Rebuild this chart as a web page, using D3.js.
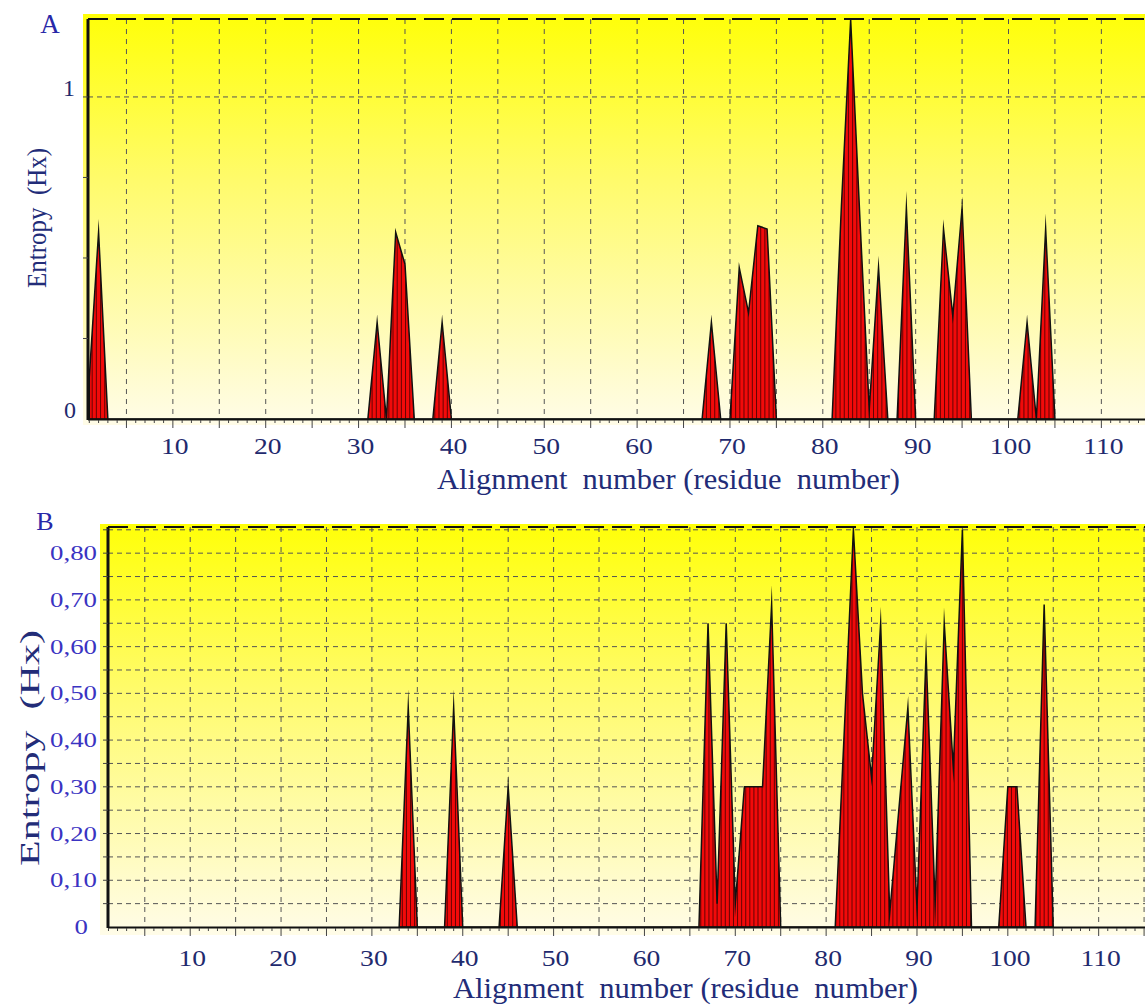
<!DOCTYPE html>
<html>
<head>
<meta charset="utf-8">
<script src="https://cdn.jsdelivr.net/npm/d3@7"></script>
<style>
  body { margin: 0; background: #fff; }
  svg { display: block; }
  text { font-family: "Liberation Serif", "Times New Roman", serif; }
</style>
</head>
<body>
<svg id="chart" width="1145" height="1007"></svg>
<script>
// panel A: residue numbers and entropy values (zeros mark the foot of each peak)
const residuesA = [1, 2, 3, 31, 32, 33, 34, 35, 36, 38, 39, 40, 67, 68, 69,
  70, 71, 72, 73, 74, 75, 81, 82, 83, 84, 85, 86, 87, 88, 89, 90,
  92, 93, 94, 95, 96, 101, 102, 103, 104, 105];
const entropyA = [0.13, 0.58, 0, 0, 0.30, 0, 0.58, 0.48, 0, 0, 0.30, 0, 0, 0.30, 0,
  0, 0.47, 0.33, 0.60, 0.59, 0, 0, 0.66, 1.24, 0.62, 0.03, 0.47, 0, 0, 0.655, 0,
  0, 0.59, 0.32, 0.655, 0, 0, 0.30, 0, 0.59, 0];

// panel B
const residuesB = [33, 34, 35, 38, 39, 40, 44, 45, 46,
  66, 67, 68, 69, 70, 71, 72, 73, 74, 75,
  81, 82, 83, 84, 85, 86, 87, 88, 89, 90, 91, 92, 93, 94, 95, 96,
  99, 100, 101, 102, 103, 104, 105];
const entropyB = [0, 0.47, 0, 0, 0.47, 0, 0, 0.30, 0,
  0, 0.65, 0.05, 0.65, 0.05, 0.30, 0.30, 0.30, 0.69, 0,
  0, 0.42, 0.85, 0.50, 0.32, 0.65, 0.03, 0.25, 0.47, 0.04, 0.585, 0.05, 0.65, 0.34, 0.85, 0,
  0, 0.30, 0.30, 0, 0, 0.69, 0];

const xTickValues = [10, 20, 30, 40, 50, 60, 70, 80, 90, 100, 110];
const yLabelsA = [0, 1];
const yLabelsB = [0, 0.1, 0.2, 0.3, 0.4, 0.5, 0.6, 0.7, 0.8];
const xTitle = "Alignment  number (residue  number)";
const yTitle = "Entropy  (Hx)";

const svg = d3.select("#chart");

const defs = svg.append("defs");
const grad = defs.append("linearGradient").attr("id", "bg")
  .attr("x1", 0).attr("y1", 0).attr("x2", 0).attr("y2", 1);
grad.append("stop").attr("offset", "0%").attr("stop-color", "#ffff08");
grad.append("stop").attr("offset", "40%").attr("stop-color", "#fffb6a");
grad.append("stop").attr("offset", "100%").attr("stop-color", "#fffce8");

const navy = "#1f2a6e";

function drawPanel(p) {
  const x = d3.scaleLinear().domain(p.xDomain).range([p.left, p.right]);
  const y = d3.scaleLinear().domain(p.yDomain).range([p.bottom, p.top]);
  const g = svg.append("g");

  g.append("rect")
    .attr("x", p.bgLeft).attr("y", p.bgTop)
    .attr("width", p.right - p.bgLeft).attr("height", p.bgBottom - p.bgTop)
    .attr("fill", "url(#bg)");

  // dashed grid
  const vLines = d3.range(5, p.xDomain[1], 5);
  g.selectAll(".vgrid").data(vLines).join("line")
    .attr("x1", d => x(d)).attr("x2", d => x(d))
    .attr("y1", p.top).attr("y2", p.bottom)
    .attr("stroke", "#555").attr("stroke-width", 1).attr("stroke-dasharray", "5,5");
  g.selectAll(".hgrid").data(p.hGrid).join("line")
    .attr("x1", p.left).attr("x2", p.right)
    .attr("y1", d => y(d)).attr("y2", d => y(d))
    .attr("stroke", "#555").attr("stroke-width", 1).attr("stroke-dasharray", "5,4");

  // entropy profile
  const pts = p.residues.map((r, i) => [r, p.values[i]]);
  const area = d3.area().x(d => x(d[0])).y0(y(0)).y1(d => y(d[1]));
  const clipId = "clip" + p.name;
  defs.append("clipPath").attr("id", clipId).append("path").attr("d", area(pts));
  const plotClip = "plot" + p.name;
  defs.append("clipPath").attr("id", plotClip).append("rect")
    .attr("x", p.left - 5).attr("y", p.top).attr("width", p.right - p.left + 5).attr("height", p.bottom - p.top + 2);

  const pg = g.append("g").attr("clip-path", `url(#${plotClip})`);
  pg.append("path").attr("d", area(pts)).attr("fill", "#f20a0a");
  pg.append("g").attr("clip-path", `url(#${clipId})`)
    .selectAll("line").data(d3.range(p.xDomain[0], p.xDomain[1], 0.45)).join("line")
    .attr("x1", d => x(d)).attr("x2", d => x(d))
    .attr("y1", p.top).attr("y2", p.bottom)
    .attr("stroke", "#2a0000").attr("stroke-width", 1).attr("stroke-opacity", 0.7);
  pg.append("path").attr("d", area(pts)).attr("fill", "none")
    .attr("stroke", "#111").attr("stroke-width", 1.5)
    .attr("stroke-linejoin", "miter").attr("stroke-miterlimit", 30);

  // frame
  g.append("line").attr("x1", p.left).attr("x2", p.right).attr("y1", p.top).attr("y2", p.top)
    .attr("stroke", "#111").attr("stroke-width", 2).attr("stroke-dasharray", "20,8");
  g.append("line").attr("x1", p.left).attr("x2", p.left).attr("y1", p.top).attr("y2", p.bottom + 1)
    .attr("stroke", "#111").attr("stroke-width", 3);
  g.append("line").attr("x1", p.left).attr("x2", p.right).attr("y1", p.bottom + 0.5).attr("y2", p.bottom + 0.5)
    .attr("stroke", "#111").attr("stroke-width", 2);

  // x ticks, every residue, longer every 5
  const xt = d3.range(Math.ceil(p.xDomain[0]), p.xDomain[1], 1);
  g.selectAll(".xt").data(xt).join("line")
    .attr("x1", d => x(d)).attr("x2", d => x(d))
    .attr("y1", p.bottom + 1).attr("y2", d => p.bottom + (d % 5 === 0 ? 9 : 4))
    .attr("stroke", "#444").attr("stroke-width", 1);
  g.selectAll(".xl").data(xTickValues).join("text")
    .attr("transform", d => `translate(${x(d) + 2},${p.xLabelY}) scale(1.2,1)`)
    .attr("text-anchor", "middle").attr("font-size", 23).attr("fill", navy)
    .text(d => d);

  // y ticks
  g.selectAll(".yt").data(p.yMinor).join("line")
    .attr("x1", p.left - 5).attr("x2", p.left)
    .attr("y1", d => y(d)).attr("y2", d => y(d))
    .attr("stroke", "#444").attr("stroke-width", 1);
  g.selectAll(".yl").data(p.yLabels).join("text")
    .attr("transform", d => `translate(${d === 0 ? p.zeroX : p.yLabelX},${y(d) + p.yLabelDy}) scale(${p.yLabelStretch},1)`)
    .attr("text-anchor", "end").attr("font-size", p.yLabelSize).attr("fill", p.yLabelColor)
    .text(p.yFormat);

  // titles
  g.append("text").attr("x", p.xTitleX).attr("y", p.xTitleY)
    .attr("font-size", 29).attr("fill", "#222c78").style("white-space", "pre")
    .attr("textLength", p.xTitleLen).attr("lengthAdjust", "spacingAndGlyphs")
    .text(xTitle);
  g.append("text")
    .attr("transform", `translate(${p.yTitleX},${p.yTitleY}) rotate(-90)`)
    .attr("font-size", p.yTitleSize).attr("fill", "#222c78").style("white-space", "pre")
    .attr("textLength", p.yTitleLen).attr("lengthAdjust", "spacingAndGlyphs")
    .text(yTitle);
  g.append("text").attr("x", p.letterX).attr("y", p.letterY)
    .attr("text-anchor", "middle").attr("font-size", p.letterSize).attr("fill", "#2828a8")
    .text(p.name);
}

drawPanel({
  name: "A", residues: residuesA, values: entropyA,
  xDomain: [0.86, 114.7], yDomain: [0, 1.242],
  left: 88, right: 1145, top: 19, bottom: 419,
  bgLeft: 83, bgTop: 14, bgBottom: 425,
  hGrid: [1], yMinor: d3.range(0.25, 1.2, 0.25), yLabels: yLabelsA,
  yFormat: d => String(d), yLabelX: 75, zeroX: 76, yLabelDy: -1, yLabelSize: 24,
  yLabelStretch: 1, yLabelColor: navy,
  xLabelY: 454,
  xTitleX: 437, xTitleY: 489, xTitleLen: 463,
  yTitleX: 46, yTitleY: 288, yTitleLen: 140, yTitleSize: 27,
  letterX: 50, letterY: 33, letterSize: 27
});

drawPanel({
  name: "B", residues: residuesB, values: entropyB,
  xDomain: [0.95, 115.1], yDomain: [0, 0.856],
  left: 108, right: 1145, top: 527, bottom: 927,
  bgLeft: 100, bgTop: 524, bgBottom: 935,
  hGrid: d3.range(1, 18).map(i => i * 0.05), yMinor: d3.range(1, 18).map(i => i * 0.05),
  yLabels: yLabelsB,
  yFormat: d => d === 0 ? "0" : d3.format(".2f")(d).replace(".", ","),
  yLabelX: 97, zeroX: 88, yLabelDy: 7, yLabelSize: 22, yLabelStretch: 1.22, yLabelColor: "#3a33c2",
  xLabelY: 966,
  xTitleX: 453, xTitleY: 998, xTitleLen: 465,
  yTitleX: 39, yTitleY: 866, yTitleLen: 236, yTitleSize: 27,
  letterX: 45, letterY: 530, letterSize: 26
});
</script>
</body>
</html>
